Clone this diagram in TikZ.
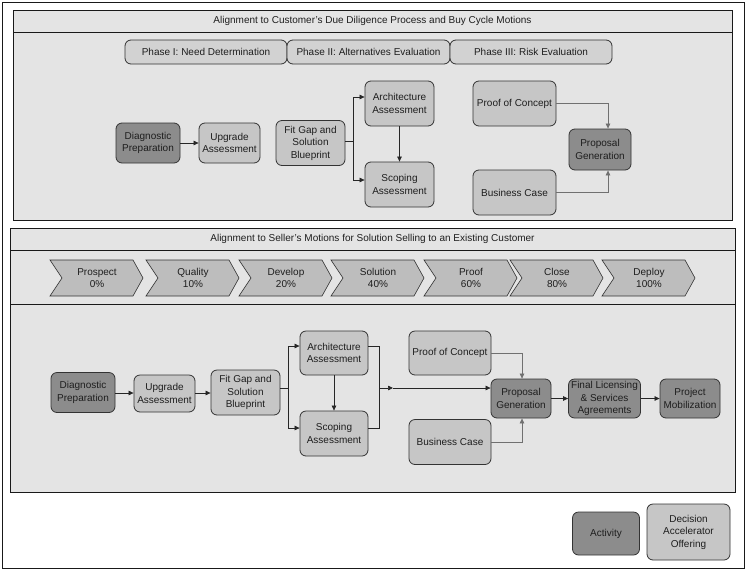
\documentclass[tikz,border=0pt]{standalone}
\usepackage{fontspec}
\setmainfont{Liberation Sans}
\usetikzlibrary{arrows.meta}
\definecolor{panelc}{HTML}{E4E4E4}
\definecolor{lightc}{HTML}{C6C6C6}
\definecolor{darkc}{HTML}{8C8C8C}
\definecolor{chevc}{HTML}{BDBDBD}
\definecolor{phasec}{HTML}{D2D2D2}
\definecolor{linec}{HTML}{333333}
\definecolor{textc}{HTML}{1E1E1E}
\definecolor{grayline}{HTML}{707070}
\begin{document}
\begin{tikzpicture}[x=1pt,y=-1pt,
  box/.style={draw=linec, rounded corners=6pt, line width=0.8pt, align=center, inner sep=0pt,
    font=\fontsize{10}{12.5}\selectfont, text=textc},
  light/.style={box, fill=lightc},
  dark/.style={box, fill=darkc},
  phasebox/.style={box, fill=phasec, minimum width=162pt, minimum height=24pt},
  panel/.style={draw=black!90, line width=0.9pt, fill=panelc},
  ttl/.style={font=\fontsize{10}{12}\selectfont, text=textc, inner sep=0pt},
  chevshape/.style={draw=linec, line width=0.6pt, fill=chevc},
  chevtext/.style={align=center, inner sep=0pt, font=\fontsize{10}{12.5}\selectfont, text=textc},
  arr/.style={-{Triangle[length=5pt,width=4.5pt]}, line width=0.7pt, draw=black!85},
  garr/.style={arr, draw=grayline},
  plain/.style={line width=0.7pt, draw=black!85}
]
\useasboundingbox (0,0) rectangle (747,571);
\fill[white] (0,0) rectangle (747,571);
% outer border
\draw[line width=0.9pt, draw=black!90] (2,2) rectangle (744,568);

% ---------- top panel ----------
\draw[panel] (13,10) rectangle (732,220);
\draw[line width=0.9pt, draw=black!90] (13,32) -- (732,32);
\node[ttl] (t1) at (372.5,21) {Alignment to Customer’s Due Diligence Process and Buy Cycle Motions};

\node[phasebox] (ph1) at (206,52) {Phase I: Need Determination};
\node[phasebox, minimum width=163pt] (ph2) at (368.5,52) {Phase II: Alternatives Evaluation};
\node[phasebox] (ph3) at (531,52) {Phase III: Risk Evaluation};

\node[dark, minimum width=64pt, minimum height=40pt] (diag1) at (148,143) {Diagnostic\\Preparation};
\node[light, minimum width=61pt, minimum height=40pt] (upg1) at (229.5,143) {Upgrade\\Assessment};
\node[light, minimum width=69pt, minimum height=45pt] (fit1) at (310.5,143) {Fit Gap and\\Solution\\Blueprint};
\node[light, minimum width=69pt, minimum height=45pt] (arch1) at (399.5,103.5) {Architecture\\Assessment};
\node[light, minimum width=69pt, minimum height=45pt] (scop1) at (399.5,184.5) {Scoping\\Assessment};
\node[light, minimum width=83pt, minimum height=45pt] (poc1) at (514.5,103.5) {Proof of Concept};
\node[light, minimum width=83pt, minimum height=45pt] (bc1) at (514.5,192.5) {Business Case};
\node[dark, minimum width=62pt, minimum height=41pt] (prop1) at (600,149.5) {Proposal\\Generation};

\draw[arr] (diag1) -- (upg1);
\coordinate (b1) at (353,141);
\draw[plain] (fit1.east |- b1) -- (b1);
\draw[arr] (b1) |- ([yshift=6.5pt]arch1.west);
\draw[arr] (b1) |- ([yshift=4.5pt]scop1.west);
\draw[arr] (arch1) -- (scop1);
\draw[garr] (poc1.east) -| ([xshift=8pt]prop1.north);
\draw[garr] (bc1.east) -| ([xshift=8pt]prop1.south);

% ---------- middle panel ----------
\draw[panel] (10,228) rectangle (735,304);
\draw[line width=0.9pt, draw=black!90] (10,250) -- (735,250);
\node[ttl] (t2) at (372.5,239) {Alignment to Seller’s Motions for Solution Selling to an Existing Customer};

\foreach \s/\n/\a/\p in {50/c1/Prospect/0, 146/c2/Quality/10, 239/c3/Develop/20, 331/c4/Solution/40, 424/c5/Proof/60, 510/c6/Close/80, 602/c7/Deploy/100}{
  \draw[chevshape] (\s,260) -- ++(83,0) -- ++(10,18) -- ++(-10,18) -- ++(-83,0) -- ++(12,-18) -- cycle;
  \node[chevtext] (\n) at (\s+47,278) {\a\\\p\%};
}

% ---------- lower panel ----------
\draw[panel] (10,304) rectangle (735,492);

\node[dark, minimum width=64pt, minimum height=40pt] (diag2) at (83,392.5) {Diagnostic\\Preparation};
\node[light, minimum width=61pt, minimum height=37pt] (upg2) at (164.5,393.5) {Upgrade\\Assessment};
\node[light, minimum width=69pt, minimum height=45pt] (fit2) at (245.5,392.5) {Fit Gap and\\Solution\\Blueprint};
\node[light, minimum width=68pt, minimum height=44pt] (arch2) at (334,353) {Architecture\\Assessment};
\node[light, minimum width=68pt, minimum height=45pt] (scop2) at (334,433.5) {Scoping\\Assessment};
\node[light, minimum width=82pt, minimum height=44pt] (poc2) at (450,353) {Proof of Concept};
\node[light, minimum width=82pt, minimum height=45pt] (bc2) at (450,442) {Business Case};
\node[dark, minimum width=60pt, minimum height=39pt] (prop2) at (521,398.5) {Proposal\\Generation};
\node[dark, minimum width=72pt, minimum height=39pt] (fin2) at (604.5,398.5) {Final Licensing\\\& Services\\Agreements};
\node[dark, minimum width=60pt, minimum height=39pt] (proj2) at (690,398.5) {Project\\Mobilization};

\draw[arr] (diag2.east |- 0,393) -- (upg2.west |- 0,393);
\draw[arr] (upg2.east |- 0,393) -- (fit2.west |- 0,393);
\coordinate (b2) at (288,388);
\draw[plain] (fit2.east |- b2) -- (b2);
\draw[arr] (b2) |- ([yshift=7pt]arch2.west);
\draw[arr] (b2) |- ([yshift=5.5pt]scop2.west);
\draw[arr] (arch2) -- (scop2);
\coordinate (j2) at (379,388);
\coordinate (k2) at (393,388);
\draw[plain] ([yshift=7pt]arch2.east) -| (j2);
\draw[plain] ([yshift=5.5pt]scop2.east) -| (j2);
\draw[arr] (j2) -- (k2);
\draw[arr] (k2) -- (k2 -| prop2.west);
\draw[garr] (poc2.east) -| ([xshift=1pt]prop2.north);
\draw[garr] (bc2.east) -| ([xshift=1pt]prop2.south);
\draw[arr] (prop2) -- (fin2);
\draw[arr] (fin2) -- (proj2);

% ---------- legend ----------
\node[dark, minimum width=67pt, minimum height=43pt] (act) at (606,533.5) {Activity};
\node[light, minimum width=83pt, minimum height=56pt] (dao) at (688.5,532) {Decision\\Accelerator\\Offering};
\end{tikzpicture}
\end{document}
